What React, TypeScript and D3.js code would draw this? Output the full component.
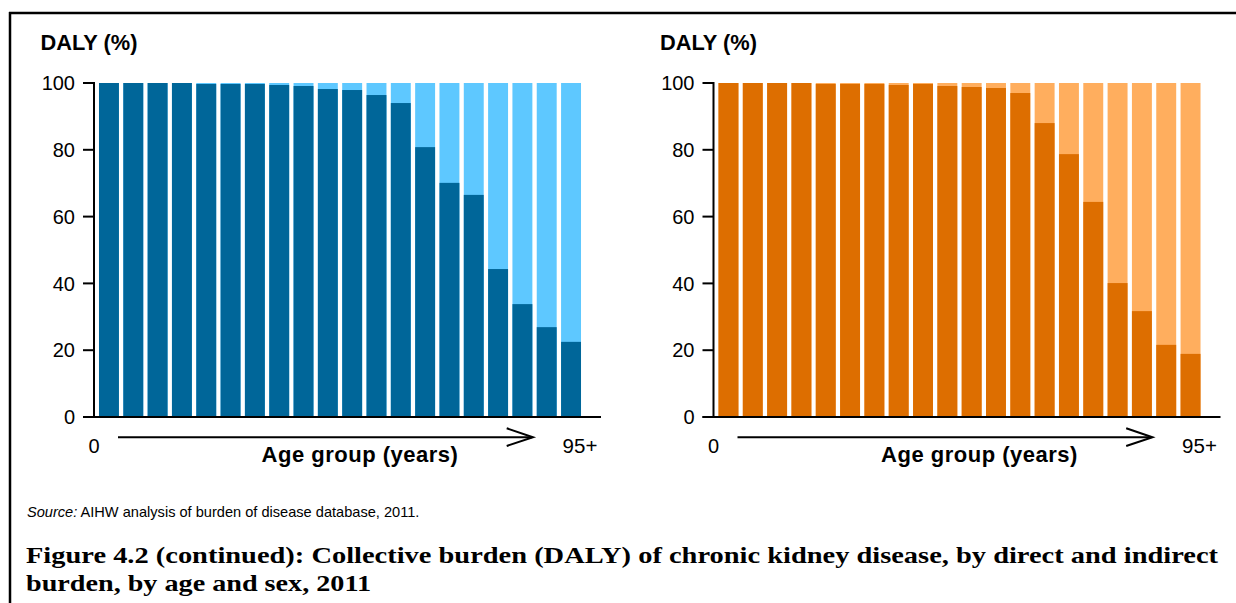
import React from "react";
import * as d3 from "d3";

// Age groups (0–4 ... 90–94, 95+)
const ageGroups = [
  "0–4", "5–9", "10–14", "15–19", "20–24", "25–29", "30–34", "35–39", "40–44", "45–49",
  "50–54", "55–59", "60–64", "65–69", "70–74", "75–79", "80–84", "85–89", "90–94", "95+",
];

// Direct burden share (%) — males (left panel)
const maleDirect = [
  100, 100, 100, 100, 99.7, 99.7, 99.7, 99.4, 99.1, 98.2,
  97.9, 96.4, 94.0, 80.8, 70.1, 66.5, 44.3, 33.8, 26.9, 22.5,
];

// Direct burden share (%) — females (right panel)
const femaleDirect = [
  100, 100, 100, 100, 99.7, 99.7, 99.7, 99.4, 99.7, 99.1,
  98.8, 98.5, 97.0, 88.0, 78.7, 64.4, 40.1, 31.7, 21.6, 18.9,
];

const yTicks = [0, 20, 40, 60, 80, 100];

const panels = [
  { offset: 0, values: maleDirect, dark: "#006699", light: "#5EC8FF" },
  { offset: 619.5, values: femaleDirect, dark: "#DD6E00", light: "#FFAE5E" },
];

const SANS = "'Liberation Sans', Arial, sans-serif";
const SERIF = "'Liberation Serif', 'Times New Roman', serif";

function Panel({ offset, values, dark, light }) {
  const x = d3
    .scaleBand()
    .domain(ageGroups)
    .range([96.8, 583.2])
    .paddingInner(0.18)
    .paddingOuter(0.09);
  const y = d3.scaleLinear().domain([0, 100]).range([417, 83]);
  const axisX = 94;
  return (
    <g transform={`translate(${offset},0)`}>
      <text x={40.5} y={50} fontFamily={SANS} fontWeight="bold" fontSize={21.8} fill="#000">
        DALY (%)
      </text>
      {ageGroups.map((g, i) => (
        <g key={g}>
          <rect x={x(g)} y={y(100)} width={x.bandwidth()} height={y(0) - y(100)} fill={light} />
          <rect x={x(g)} y={y(values[i])} width={x.bandwidth()} height={y(0) - y(values[i])} fill={dark} />
        </g>
      ))}
      {/* y axis */}
      <line x1={axisX} x2={axisX} y1={y(100) - 1} y2={y(0)} stroke="#000" strokeWidth={2} />
      {yTicks.map((t) => (
        <g key={t}>
          <line x1={83} x2={axisX} y1={y(t)} y2={y(t)} stroke="#000" strokeWidth={2} />
          <text
            x={75}
            y={y(t)}
            dy="0.36em"
            textAnchor="end"
            fontFamily={SANS}
            fontSize={20}
            fill="#000"
          >
            {t}
          </text>
        </g>
      ))}
      {/* x axis */}
      <line x1={83} x2={601} y1={y(0)} y2={y(0)} stroke="#000" strokeWidth={2} />
      {/* age arrow */}
      <line x1={118} x2={532} y1={437.3} y2={437.3} stroke="#000" strokeWidth={2} />
      <polyline
        points="506.7,428.3 533,437.3 506.7,446"
        fill="none"
        stroke="#000"
        strokeWidth={2}
      />
      <text x={94} y={453} textAnchor="middle" fontFamily={SANS} fontSize={20} fill="#000">
        0
      </text>
      <text x={580} y={453} textAnchor="middle" fontFamily={SANS} fontSize={20.5} fill="#000">
        95+
      </text>
      <text
        x={360}
        y={462}
        textAnchor="middle"
        fontFamily={SANS}
        fontWeight="bold"
        fontSize={22}
        letterSpacing={0.5}
        fill="#000"
      >
        Age group (years)
      </text>
    </g>
  );
}

export default function App() {
  return (
    <svg
      width={1236}
      height={603}
      style={{ position: "absolute", left: 0, top: 0, background: "#fff" }}
    >
      <rect x={0} y={0} width={1236} height={603} fill="#fff" />
      {/* frame */}
      <line x1={9} x2={1236} y1={13} y2={13} stroke="#000" strokeWidth={2.5} />
      <line x1={10} x2={10} y1={12} y2={603} stroke="#000" strokeWidth={2.5} />
      {panels.map((p, i) => (
        <Panel key={i} {...p} />
      ))}
      <text x={27} y={517} fontFamily={SANS} fontSize={14.6} fill="#000">
        <tspan fontStyle="italic">Source:</tspan> AIHW analysis of burden of disease database, 2011.
      </text>
      <text
        x={26}
        y={563}
        fontFamily={SERIF}
        fontWeight="bold"
        fontSize={24}
        textLength={1192}
        lengthAdjust="spacingAndGlyphs"
        fill="#000"
      >
        Figure 4.2 (continued): Collective burden (DALY) of chronic kidney disease, by direct and indirect
      </text>
      <text
        x={26}
        y={591}
        fontFamily={SERIF}
        fontWeight="bold"
        fontSize={24}
        textLength={345}
        lengthAdjust="spacingAndGlyphs"
        fill="#000"
      >
        burden, by age and sex, 2011
      </text>
    </svg>
  );
}
